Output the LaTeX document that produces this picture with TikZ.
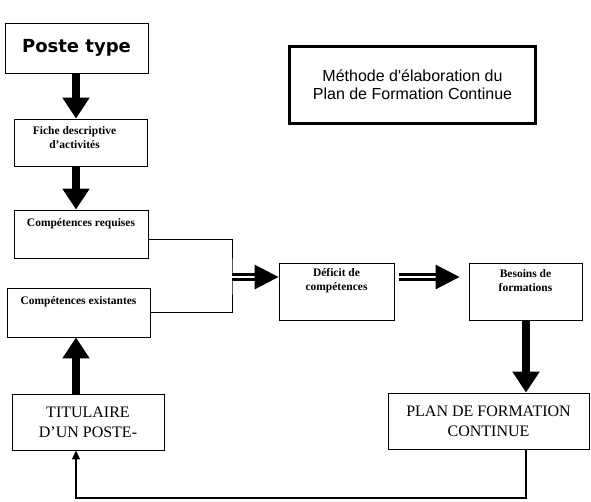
\documentclass[tikz,border=0pt]{standalone}
\usepackage{fontspec}
\setmainfont{Liberation Serif}
\newfontfamily\titlefont{Liberation Sans}
\newfontfamily\postefont{DejaVu Sans}
\usetikzlibrary{arrows.meta,positioning}

\begin{document}
\begin{tikzpicture}[
    x=1pt, y=-1pt,
    box/.style={draw, line width=0.9pt, inner sep=0pt},
    lbl/.style={font=\fontsize{11.5}{14}\selectfont\bfseries, align=center, inner sep=0pt, anchor=north},
    big/.style={font=\fontsize{16}{20}\selectfont, align=center},
    bigarrow/.style={line width=8pt, -{Triangle[width=26pt, length=21pt]}},
    dblarrow/.style={double, line width=3pt, double distance=1.2pt, -{Triangle[width=24pt, length=24pt]}},
    thinarrow/.style={line width=1.2pt, -{Triangle[width=8pt, length=9pt]}},
]

% Bounding box of the page
\useasboundingbox (0,0) rectangle (591,501);

% Columns of the vertical arrows
\coordinate (lcol) at (76,0);
\coordinate (rcol) at (526,0);

% Left column
\node[box, minimum width=143pt, minimum height=50pt, font=\postefont\fontsize{18}{20}\selectfont\bfseries] (poste) at (76.5,48) {Poste type};
\node[box, minimum width=133pt, minimum height=47pt] (fiche) at (80.5,142.5) {};
\node[lbl, below=8pt of fiche.north, xshift=-6pt] (fichetxt) {Fiche descriptive\\d'activités};
\node[box, minimum width=134pt, minimum height=48pt] (req) at (81,234) {};
\node[lbl, below=9pt of req.north] (reqtxt) {Compétences requises};
\node[box, minimum width=143pt, minimum height=49pt] (exist) at (78.5,312.5) {};
\node[lbl, below=9pt of exist.north] (existtxt) {Compétences existantes};
\node[box, big, minimum width=152pt, minimum height=56pt] (titul) at (88,422) {TITULAIRE\\D'UN POSTE-};

% Title
\node[draw, line width=3pt, minimum width=246pt, minimum height=77pt, align=center,
      font=\titlefont\fontsize{16}{18}\selectfont] (titre) at (412.5,85)
      {Méthode d'élaboration du\\Plan de Formation Continue};

% Right part
\node[box, minimum width=115pt, minimum height=57pt] (deficit) at (336.5,291.5) {};
\node[lbl, below=6pt of deficit.north] (deficittxt) {Déficit de\\compétences};
\node[box, minimum width=113pt, minimum height=57pt] (besoins) at (525.5,291.5) {};
\node[lbl, below=7pt of besoins.north] (besoinstxt) {Besoins de\\formations};
\node[box, big, minimum width=201pt, minimum height=56pt] (plan) at (488.5,421) {PLAN DE FORMATION\\CONTINUE};

% Thick arrows
\draw[bigarrow] (poste.south -| lcol) -- (fiche.north -| lcol);
\draw[bigarrow] (fiche.south -| lcol) -- (req.north -| lcol);
\draw[bigarrow] (titul.north -| lcol) -- (exist.south -| lcol);
\draw[bigarrow] (besoins.south -| rcol) -- (plan.north -| rcol);

% Bracket joining the two skills boxes
\coordinate (join) at (232,277);
\draw[line width=0.9pt] ([yshift=-5pt]req.east) -| (join) |- (exist.east);

% Double arrows
\draw[dblarrow] (join) -- (join -| deficit.west);
\draw[dblarrow] ([xshift=5pt]deficit.east |- join) -- ([xshift=-9pt]besoins.west |- join);

% Loop back to the holder
\coordinate (base) at (0,498);
\draw[thinarrow] (plan.south -| rcol) -- (base -| rcol) -- (base -| lcol) -- (titul.south -| lcol);

\end{tikzpicture}
\end{document}
